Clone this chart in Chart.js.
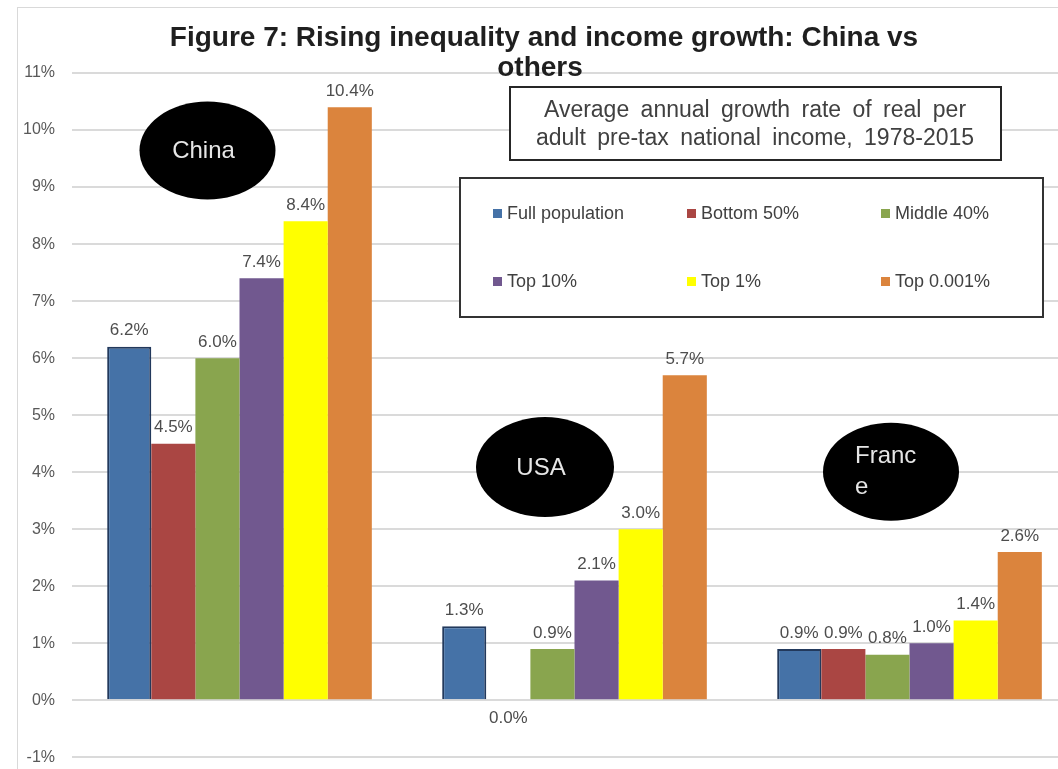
<!DOCTYPE html>
<html lang="en">
<head>
    <meta charset="UTF-8">
    <title>Rising inequality and income growth: China vs others</title>
    <script src="https://cdn.jsdelivr.net/npm/chart.js"></script>
    <style>
      body { margin: 0; background: #fff; overflow: hidden; }
      #wrap { width: 1080px; height: 784px; }
    </style>
</head>
<body>
    <div id="wrap"><canvas id="growthChart"></canvas></div>

    <script>
      // data
      const categories = ["China", "USA", "France"];
      const fullPopulation = [6.2, 1.3, 0.9];
      const bottom50 = [4.5, 0.0, 0.9];
      const middle40 = [6.0, 0.9, 0.8];
      const top10 = [7.4, 2.1, 1.0];
      const top1 = [8.4, 3.0, 1.4];
      const top0001 = [10.4, 5.7, 2.6];
      const seriesNames = ["Full population", "Bottom 50%", "Middle 40%", "Top 10%", "Top 1%", "Top 0.001%"];
      const yMin = -1, yMax = 11, yStep = 1;

      const titleLines = ["Figure 7: Rising inequality and income growth: China vs", "others"];
      const noteLines = ["Average annual growth rate of real per", "adult pre-tax national income, 1978-2015"];
      // text inside the black ovals (France is wrapped in the original)
      const bubbleText = [["China"], ["USA"], ["Franc", "e"]];

      const colors = ["#4572A7", "#AA4643", "#89A54E", "#71588F", "#FFFF00", "#DB843D"];
      const seriesData = [fullPopulation, bottom50, middle40, top10, top1, top0001];

      const datasets = seriesNames.map((name, i) => ({
        label: name,
        data: seriesData[i],
        backgroundColor: colors[i],
        borderColor: i === 0 ? "#22395c" : colors[i],
        borderWidth: i === 0 ? 2 : 0,
        barPercentage: 1,
        categoryPercentage: 0.79
      }));

      // oval position: offset from category centre (px), y in axis units, radii
      const bubbles = [
        { dx: -32, y: 9.64, rx: 68, ry: 49 },
        { dx: -29.5, y: 4.09, rx: 69, ry: 50 },
        { dx: -18.5, y: 4.01, rx: 68, ry: 49 }
      ];

      const font = "'Liberation Sans', Arial, sans-serif";

      const overlay = {
        id: "overlay",
        afterDatasetsDraw(chart) {
          const ctx = chart.ctx;
          ctx.save();
          ctx.font = "17px " + font;
          ctx.fillStyle = "#4d4d4d";
          ctx.textAlign = "center";
          ctx.textBaseline = "middle";
          chart.data.datasets.forEach((ds, i) => {
            chart.getDatasetMeta(i).data.forEach((bar, j) => {
              const v = ds.data[j];
              const txt = v.toFixed(1) + "%";
              if (v > 0) ctx.fillText(txt, bar.x, bar.y - 16);
              else ctx.fillText(txt, bar.x, bar.y + 18);
            });
          });
          ctx.restore();
        },
        afterDraw(chart) {
          const ctx = chart.ctx;
          const x = chart.scales.x, y = chart.scales.y;
          ctx.save();

          // outer chart border (cropped on right/bottom)
          ctx.strokeStyle = "#d9d9d9";
          ctx.lineWidth = 1;
          ctx.strokeRect(17.5, 7.5, 1200, 1000);

          // title
          ctx.fillStyle = "#1f1f1f";
          ctx.font = "bold 28px " + font;
          ctx.textAlign = "center";
          ctx.textBaseline = "alphabetic";
          ctx.fillText(titleLines[0], 544, 46);
          ctx.fillText(titleLines[1], 540, 76);

          // note box
          ctx.fillStyle = "#fff";
          ctx.fillRect(510, 87, 491, 73);
          ctx.strokeStyle = "#262626";
          ctx.lineWidth = 2;
          ctx.strokeRect(510, 87, 491, 73);
          ctx.fillStyle = "#404040";
          ctx.font = "23px " + font;
          ctx.wordSpacing = "5px";
          ctx.textBaseline = "middle";
          ctx.fillText(noteLines[0], 755, 111);
          ctx.fillText(noteLines[1], 755, 139);
          ctx.wordSpacing = "0px";

          // legend box
          ctx.fillStyle = "#fff";
          ctx.fillRect(460, 178, 583, 139);
          ctx.strokeStyle = "#333";
          ctx.strokeRect(460, 178, 583, 139);
          ctx.font = "18px " + font;
          ctx.textAlign = "left";
          chart.data.datasets.forEach((ds, i) => {
            const lx = 493 + (i % 3) * 194;
            const ly = i < 3 ? 214 : 282;
            ctx.fillStyle = ds.backgroundColor;
            ctx.fillRect(lx, ly - 5, 9, 9);
            ctx.fillStyle = "#404040";
            ctx.fillText(ds.label, lx + 14, ly);
          });

          // black ovals with the country names
          bubbles.forEach((b, i) => {
            const cx = x.getPixelForValue(i) + b.dx;
            const cy = y.getPixelForValue(b.y);
            ctx.fillStyle = "#000";
            ctx.beginPath();
            ctx.ellipse(cx, cy, b.rx, b.ry, 0, 0, Math.PI * 2);
            ctx.fill();
            ctx.fillStyle = "#e6e6e6";
            ctx.font = "24px " + font;
            const lines = bubbleText[i];
            if (lines.length === 1) {
              ctx.textAlign = "center";
              ctx.fillText(lines[0], cx - 4, cy + 1);
            } else {
              ctx.textAlign = "left";
              lines.forEach((t, k) => ctx.fillText(t, cx - 36, cy - 15 + k * 31));
            }
          });

          ctx.restore();
        }
      };

      const ctx = document.getElementById("growthChart").getContext("2d");
      new Chart(ctx, {
        type: "bar",
        data: { labels: categories, datasets: datasets },
        options: {
          responsive: true,
          maintainAspectRatio: false,
          animation: false,
          layout: { padding: { top: 73, bottom: 12, left: 0, right: 3 } },
          plugins: {
            legend: { display: false },
            title: { display: false },
            tooltip: { enabled: false }
          },
          scales: {
            x: { display: false },
            y: {
              min: yMin,
              max: yMax,
              afterFit: (scale) => { scale.width = 72; },
              border: { display: false },
              grid: { color: "#dadada", lineWidth: 2, drawTicks: false },
              ticks: {
                stepSize: yStep,
                padding: 17,
                color: "#595959",
                font: { family: font, size: 16 },
                callback: (v) => v + "%"
              }
            }
          }
        },
        plugins: [overlay]
      });
    </script>
</body>
</html>
